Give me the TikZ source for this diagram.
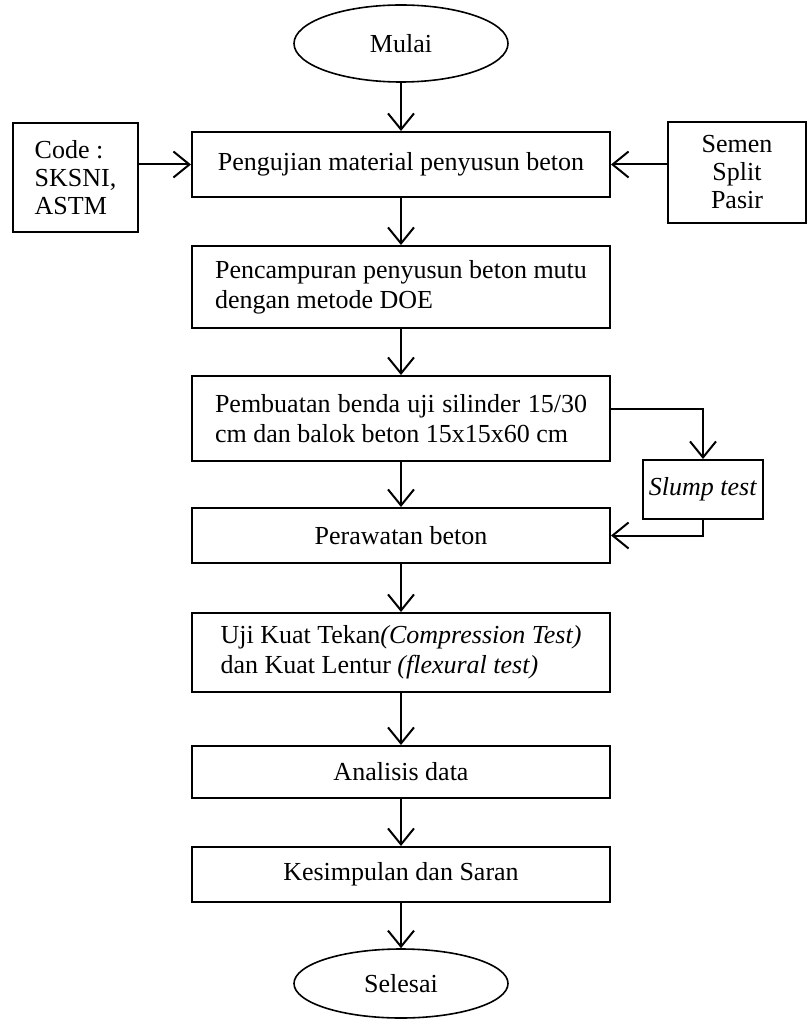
\documentclass[tikz,border=0pt]{standalone}
\usepackage{fontspec}
\setmainfont{Liberation Serif}
\usetikzlibrary{arrows.meta,shapes.geometric}

\begin{document}
\begin{tikzpicture}[x=0.5pt,y=-0.5pt,
  every node/.style={font=\fontsize{13}{15}\selectfont},
  box/.style={draw,line width=1pt,minimum width=209pt,inner sep=0pt},
  oval/.style={draw,ellipse,line width=0.8pt,minimum width=107pt,minimum height=38.5pt,inner sep=0pt},
  arr/.style={line width=1pt,-{Straight Barb[length=8pt,width=13pt]}}]
  \useasboundingbox (0,0) rectangle (808,1021);
  % main column
  \node[oval] (mulai) at (401,43.5) {Mulai};
  \node[box,minimum height=32.5pt] (uji) at (401,164.5) {Pengujian material penyusun beton};
  \node[box,minimum height=41pt,align=left] (campur) at (401,287)
    {Pencampuran penyusun beton mutu\\dengan metode DOE};
  \node[box,minimum height=42.5pt,align=left] (buat) at (401,418.5)
    {\makebox[186pt][s]{Pembuatan benda uji silinder 15/30}\\cm dan balok beton 15x15x60 cm};
  \node[box,minimum height=27.5pt] (rawat) at (401,535.5) {Perawatan beton};
  \node[box,minimum height=39.5pt,align=left] (tekan) at (401,652.5)
    {Uji Kuat Tekan\textit{(Compression Test)}\\dan Kuat Lentur \textit{(flexural test)}};
  \node[box,minimum height=26pt] (analisis) at (401,772) {Analisis data};
  \node[box,minimum height=27.5pt] (simpul) at (401,874.5) {Kesimpulan dan Saran};
  \node[oval,minimum height=34.5pt] (selesai) at (401,983.5) {Selesai};
  % side boxes
  \node[box,minimum width=62.5pt,minimum height=54.5pt,align=left,
    font=\fontsize{13}{14}\selectfont] (code) at (75.5,177.5) {Code :\\SKSNI,\\ASTM};
  \node[box,minimum width=69pt,minimum height=50.5pt,align=center,
    font=\fontsize{13}{14}\selectfont] (bahan) at (737,172.5) {Semen\\Split\\Pasir};
  \node[box,minimum width=60pt,minimum height=29.5pt] (slump) at (703,489.5) {\textit{Slump test}};
  % connectors
  \foreach \from/\to in {mulai/uji,uji/campur,campur/buat,buat/rawat,
    rawat/tekan,tekan/analisis,analisis/simpul,simpul/selesai}
    \draw[arr] (\from.south) -- (\to.north);
  \draw[arr] (code.east |- uji.west) -- (uji.west);
  \draw[arr] (bahan.west |- uji.east) -- (uji.east);
  \draw[arr] ([yshift=4.75pt]buat.east) -| (slump.north);
  \draw[arr] (slump.south) |- (rawat.east);
\end{tikzpicture}
\end{document}
